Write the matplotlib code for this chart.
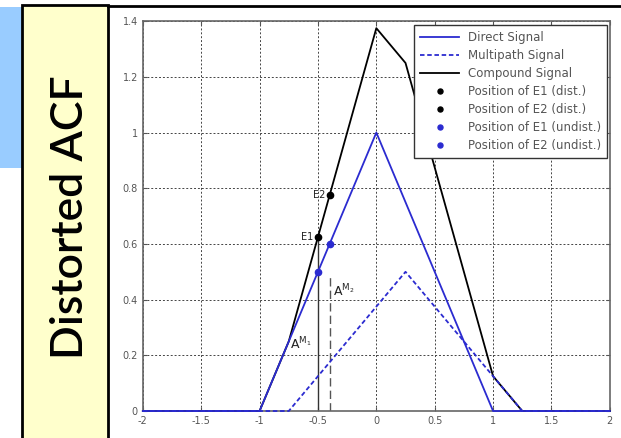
import matplotlib
matplotlib.use("Agg")
import matplotlib.pyplot as plt
from matplotlib.patches import Rectangle
from matplotlib.lines import Line2D

# ACF curves (breakpoints)
direct_x = [-2, -1, 0, 1, 2]
direct_y = [0, 0, 1, 0, 0]
multi_x = [-2, -0.75, 0.25, 1.25, 2]
multi_y = [0, 0, 0.5, 0, 0]
comp_x = [-2, -1, -0.75, 0, 0.25, 1, 1.25, 2]
comp_y = [0, 0, 0.25, 1.375, 1.25, 0.125, 0, 0]

# early correlator positions
e_x = [-0.5, -0.4]
e_dist = [0.625, 0.775]
e_undist = [0.5, 0.6]

xticks = [-2, -1.5, -1, -0.5, 0, 0.5, 1, 1.5, 2]
yticks = [0, 0.2, 0.4, 0.6, 0.8, 1, 1.2, 1.4]

blue = "#2b2bd0"
gray = "#555555"

fig = plt.figure(figsize=(6.21, 4.38), dpi=100)

# left decoration
fig.patches.append(Rectangle((0, 0.616), 0.0354, 0.368, transform=fig.transFigure,
                             facecolor="#99ccff", edgecolor="none", zorder=0))
fig.patches.append(Rectangle((0.0354, -0.02), 0.1385, 1.009, transform=fig.transFigure,
                             facecolor="#ffffcc", edgecolor="black", lw=2, zorder=1))
fig.lines.append(Line2D([0.174, 1.0], [0.987, 0.987], transform=fig.transFigure,
                        color="black", lw=2))
fig.text(0.114, 0.503, "Distorted ACF", rotation=90, ha="center", va="center",
         fontsize=32, family="Lato", weight="semibold", color="black")

ax = fig.add_axes([0.230, 0.0616, 0.752, 0.890])
ax.plot(direct_x, direct_y, color=blue, lw=1.3, label="Direct Signal", clip_on=False, zorder=3)
ax.plot(multi_x, multi_y, color=blue, lw=1.3, ls=(0, (2.5, 1.5)), label="Multipath Signal",
        clip_on=False, zorder=3)
ax.plot(comp_x, comp_y, color="black", lw=1.3, label="Compound Signal", clip_on=False, zorder=2.9)

ax.plot([e_x[0], e_x[0]], [0, e_dist[0]], color="#333333", lw=1)
ax.plot([e_x[1], e_x[1]], [0, 0.49], color="#555555", lw=1, ls=(0, (6, 3)))

ax.plot(e_x[0], e_dist[0], ".", color="black", ms=9, ls="none", label="Position of E1 (dist.)", zorder=4)
ax.plot(e_x[1], e_dist[1], ".", color="black", ms=9, ls="none", label="Position of E2 (dist.)", zorder=4)
ax.plot(e_x[0], e_undist[0], ".", color=blue, ms=9, ls="none", label="Position of E1 (undist.)", zorder=4)
ax.plot(e_x[1], e_undist[1], ".", color=blue, ms=9, ls="none", label="Position of E2 (undist.)", zorder=4)

ax.text(-0.54, e_dist[0], "E1", fontsize=7, ha="right", va="center", color="#222222")
ax.text(-0.44, e_dist[1], "E2", fontsize=7, ha="right", va="center", color="#222222")
ax.text(-0.74, 0.24, r"$\mathrm{A}^{\mathrm{M}_1}$", fontsize=9, ha="left", va="center", color="#222222")
ax.text(-0.37, 0.43, r"$\mathrm{A}^{\mathrm{M}_2}$", fontsize=9, ha="left", va="center", color="#222222")

ax.set_xlim(-2, 2)
ax.set_ylim(0, 1.4)
ax.set_xticks(xticks)
ax.set_xticklabels(["-2", "-1.5", "-1", "-0.5", "0", "0.5", "1", "1.5", "2"])
ax.set_yticks(yticks)
ax.set_yticklabels(["0", "0.2", "0.4", "0.6", "0.8", "1", "1.2", "1.4"])
ax.tick_params(direction="in", labelsize=7, labelcolor=gray, color=gray, length=3,
               top=True, right=True)
ax.grid(True, color="#444444", ls=(0, (2, 2)), lw=0.7)
for s in ax.spines.values():
    s.set_color("#666666")
    s.set_linewidth(1.2)

leg = ax.legend(loc="upper right", bbox_to_anchor=(0.995, 0.99), fontsize=8.5,
                frameon=True, fancybox=False, framealpha=1, edgecolor="#333333",
                labelspacing=0.42, handlelength=3.3, borderpad=0.5, borderaxespad=0,
                markerscale=0.8)
leg.get_frame().set_linewidth(1)
for t in leg.get_texts():
    t.set_color(gray)

fig.savefig("out.png", dpi=100)
